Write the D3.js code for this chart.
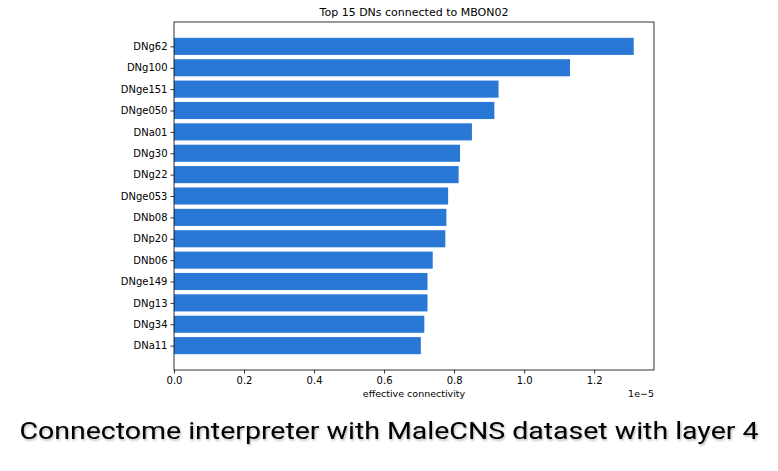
<!DOCTYPE html>
<html>
<head>
  <meta charset="UTF-8">
  <title>Top 15 DNs connected to MBON02</title>
  <script src="https://d3js.org/d3.v7.min.js"></script>
  <style>
    body { margin: 0; background: #ffffff; }
    svg { display: block; }
    .tick text { font-family: "DejaVu Sans", sans-serif; font-size: 10px; fill: #000; }
    .tick line { stroke: #000; stroke-width: 0.8px; }
    .frame { fill: none; stroke: #000; stroke-width: 0.8px; }
    .title { font-family: "DejaVu Sans", sans-serif; font-size: 11px; fill: #000; }
    .axis-label { font-family: "DejaVu Sans", sans-serif; font-size: 9.5px; fill: #000; }
    .caption { font-family: Roboto, "Open Sans", sans-serif; font-size: 24px; fill: #000; }
  </style>
</head>
<body>
<script>
  // 数据：神经元名称与有效连接度（单位 1e-5）
  const neurons = ["DNg62", "DNg100", "DNge151", "DNge050", "DNa01", "DNg30", "DNg22",
                   "DNge053", "DNb08", "DNp20", "DNb06", "DNge149", "DNg13", "DNg34", "DNa11"];
  const connectivity = [1.313, 1.131, 0.927, 0.915, 0.851, 0.817, 0.813,
                        0.783, 0.778, 0.775, 0.739, 0.724, 0.724, 0.715, 0.705];
  const xTicks = [0, 0.2, 0.4, 0.6, 0.8, 1.0, 1.2];

  const W = 778, H = 471;
  const plot = {left: 174, right: 654, top: 22, bottom: 370};

  const svg = d3.select("body").append("svg")
      .attr("width", W)
      .attr("height", H);

  const x = d3.scaleLinear()
      .domain([0, 1.371])
      .range([plot.left, plot.right]);

  // matplotlib 风格的 y 轴：bar 高度 0.8，上下各留 5% 边距
  const n = neurons.length;
  const pad = (n - 1 + 0.8) * 0.05;
  const y = d3.scaleLinear()
      .domain([-0.4 - pad, n - 1 + 0.4 + pad])
      .range([plot.top, plot.bottom]);

  const data = neurons.map((name, i) => ({name, value: connectivity[i], i}));

  svg.append("g")
    .selectAll("rect")
    .data(data)
    .join("rect")
      .attr("x", x(0))
      .attr("y", d => y(d.i - 0.4))
      .attr("width", d => x(d.value) - x(0))
      .attr("height", d => y(d.i + 0.4) - y(d.i - 0.4))
      .attr("fill", "#2a78d6");

  // 坐标框
  svg.append("rect")
      .attr("class", "frame")
      .attr("x", plot.left)
      .attr("y", plot.top)
      .attr("width", plot.right - plot.left)
      .attr("height", plot.bottom - plot.top);

  const xAxis = svg.append("g")
      .attr("transform", `translate(0,${plot.bottom})`)
      .call(d3.axisBottom(x).tickValues(xTicks).tickFormat(d3.format(".1f")).tickSize(3.5).tickPadding(3));
  xAxis.select(".domain").remove();

  const yAxis = svg.append("g")
      .attr("transform", `translate(${plot.left},0)`)
      .call(d3.axisLeft(y).tickValues(d3.range(n)).tickFormat(i => neurons[i]).tickSize(3.5).tickPadding(3));
  yAxis.select(".domain").remove();

  svg.append("text")
      .attr("class", "title")
      .attr("x", (plot.left + plot.right) / 2)
      .attr("y", 16)
      .attr("text-anchor", "middle")
      .text("Top 15 DNs connected to MBON02");

  svg.append("text")
      .attr("class", "axis-label")
      .attr("x", (plot.left + plot.right) / 2)
      .attr("y", 397)
      .attr("text-anchor", "middle")
      .text("effective connectivity");

  svg.append("text")
      .attr("class", "axis-label")
      .attr("x", plot.right)
      .attr("y", 397)
      .attr("text-anchor", "end")
      .text("1e\u22125");

  // 底部说明文字（带轻微阴影）
  const defs = svg.append("defs");
  const f = defs.append("filter").attr("id", "shadow").attr("x", "-5%").attr("y", "-20%").attr("width", "110%").attr("height", "140%");
  f.append("feDropShadow").attr("dx", 1).attr("dy", 1.5).attr("stdDeviation", 1).attr("flood-color", "#000").attr("flood-opacity", 0.3);

  svg.append("text")
      .attr("class", "caption")
      .attr("x", W / 2)
      .attr("y", 439)
      .attr("text-anchor", "middle")
      .attr("textLength", 739)
      .attr("lengthAdjust", "spacingAndGlyphs")
      .attr("filter", "url(#shadow)")
      .text("Connectome interpreter with MaleCNS dataset with layer 4");
</script>
</body>
</html>
